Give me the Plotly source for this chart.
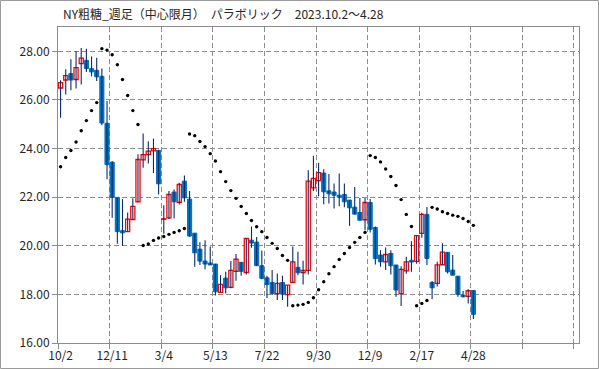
import plotly.graph_objects as go

# ---- data ----
opens = [26.49, 26.82, 27.08, 26.84, 27.49, 27.63, 27.29, 27.22, 26.97, 25.04,
         23.44, 21.99, 20.62, 20.58, 21.08, 21.81, 23.53, 23.75, 23.90, 23.92,
         21.09, 21.15, 22.21, 21.79, 22.66, 21.92, 20.52, 19.86, 19.37, 19.29,
         19.25, 18.08, 18.67, 18.29, 18.95, 19.32, 18.90, 20.23, 20.15, 19.18,
         18.68, 18.49, 18.03, 18.49, 17.99, 18.49, 19.11, 18.90, 18.99, 22.38,
         22.68, 22.99, 22.26, 22.21, 22.08, 22.11, 21.88, 21.59, 21.37, 21.07,
         21.78, 20.75, 19.62, 19.34, 19.68, 19.21, 18.03, 18.97, 19.40, 19.36,
         20.51, 21.29, 18.49, 18.45, 19.22, 19.73, 19.00, 18.75, 17.97, 17.92,
         18.16]
closes = [26.71, 27.00, 26.82, 27.33, 27.72, 27.29, 27.15, 26.95, 25.05, 23.34,
          21.99, 20.58, 20.53, 21.10, 21.62, 23.55, 23.75, 23.89, 24.00, 22.55,
          21.11, 22.11, 21.81, 22.52, 21.97, 20.40, 19.71, 19.37, 19.25, 19.21,
          18.11, 18.41, 18.27, 18.99, 19.45, 18.95, 20.30, 20.11, 19.18, 18.66,
          18.41, 18.03, 18.45, 18.01, 18.38, 19.34, 18.89, 18.99, 22.66, 22.77,
          23.01, 22.22, 22.14, 22.08, 22.00, 21.81, 21.56, 21.30, 21.05, 21.78,
          20.68, 19.47, 19.34, 19.64, 19.18, 18.18, 19.03, 19.34, 19.33, 20.42,
          21.29, 19.48, 18.27, 19.21, 19.74, 18.93, 18.79, 18.00, 17.90, 18.15,
          17.18]
highs = [26.81, 27.26, 27.67, 28.00, 28.14, 28.11, 27.79, 27.74, 27.29, 25.96,
         23.48, 21.99, 21.92, 21.37, 21.95, 23.77, 24.62, 24.30, 24.41, 23.95,
         21.67, 22.25, 22.32, 22.59, 22.89, 22.25, 20.52, 20.14, 20.23, 19.97,
         19.25, 18.79, 18.93, 19.37, 19.66, 19.32, 20.30, 20.79, 20.36, 19.81,
         18.77, 19.00, 18.86, 18.77, 18.38, 19.97, 19.75, 19.38, 23.11, 23.70,
         23.42, 23.15, 22.95, 22.56, 22.97, 22.56, 21.88, 22.42, 21.97, 21.97,
         21.92, 20.79, 19.82, 19.93, 19.82, 19.21, 19.16, 19.55, 20.19, 20.42,
         21.36, 21.60, 18.55, 19.34, 20.10, 19.73, 19.62, 18.75, 18.14, 18.21,
         18.16]
lows = [25.27, 26.22, 26.40, 26.47, 26.63, 27.15, 26.97, 26.78, 24.96, 22.74,
        21.15, 20.08, 19.99, 20.58, 21.08, 21.81, 23.21, 23.38, 22.99, 22.11,
        20.49, 21.10, 21.12, 21.70, 21.81, 20.37, 19.14, 19.21, 19.03, 19.21,
        17.95, 18.08, 18.04, 18.25, 18.56, 18.77, 18.82, 19.92, 19.18, 18.62,
        17.85, 17.97, 17.77, 17.77, 17.49, 18.49, 18.79, 18.41, 18.82, 22.25,
        22.04, 21.71, 21.74, 21.53, 21.63, 21.58, 20.82, 21.30, 21.05, 20.64,
        20.55, 19.23, 19.14, 19.00, 18.82, 17.90, 17.52, 18.85, 18.93, 19.26,
        20.33, 19.21, 17.81, 18.32, 19.22, 18.86, 18.79, 17.90, 17.88, 17.63,
        16.99]
sar = [23.25, 23.63, 23.92, 24.27, 24.73, 25.15, 25.56, 25.89, 28.11, 28.05,
       27.86, 27.45, 26.84, 26.18, 25.56, 24.99, 20.01, 20.07, 20.22, 20.32,
       20.38, 20.47, 20.55, 20.62, 20.71, 24.60, 24.53, 24.29, 24.08, 23.79,
       23.49, 23.05, 22.64, 22.27, 21.95, 21.62, 21.33, 21.04, 20.78, 20.58,
       20.34, 20.10, 19.89, 19.60, 19.40, 17.53, 17.56, 17.59, 17.67, 17.86,
       18.19, 18.52, 18.85, 19.14, 19.44, 19.68, 19.93, 20.14, 20.34, 20.55,
       23.71, 23.63, 23.45, 23.16, 22.85, 22.48, 21.90, 21.29, 20.79, 17.53,
       17.63, 17.75, 21.58, 21.51, 21.40, 21.33, 21.26, 21.21, 21.12, 21.00,
       20.84]
tick_labels = ["10/2", "12/11", "3/4", "5/13", "7/22", "9/30", "12/9", "2/17", "4/28"]
tick_step = 10
n_slots = 101
title_text = "NY粗糖_週足（中心限月）　パラボリック　2023.10.2～4.28"

# ---- derived ----
idx = list(range(len(opens)))
up = [i for i in idx if closes[i] >= opens[i]]
dn = [i for i in idx if closes[i] < opens[i]]

wx, wy = [], []
for i in idx:
    wx += [i, i, None]
    wy += [lows[i], highs[i], None]

FONT = "Noto Sans CJK JP"
RED = "#FF0000"
BLUE = "#0070C0"
NAVY = "#0B2A66"
GRID = "#8C8C8C"
TXT = "#262626"

fig = go.Figure()
fig.add_trace(go.Scatter(x=wx, y=wy, mode="lines", line=dict(color=NAVY, width=1.1),
                         hoverinfo="skip", showlegend=False))
fig.add_trace(go.Bar(x=up, y=[closes[i] - opens[i] for i in up], base=[opens[i] for i in up],
                     width=0.8, marker=dict(color="white", line=dict(color=RED, width=1.3)),
                     showlegend=False))
fig.add_trace(go.Bar(x=dn, y=[opens[i] - closes[i] for i in dn], base=[closes[i] for i in dn],
                     width=0.8, marker=dict(color=BLUE, line=dict(color=BLUE, width=1)),
                     showlegend=False))
fig.add_trace(go.Scatter(x=idx, y=sar, mode="markers",
                         marker=dict(color="black", size=3.4, symbol="circle", line=dict(width=0)),
                         showlegend=False))

W, H = 599, 369
ml, mr, mt, mb = 58, 20, 27, 26
pw, ph = W - ml - mr, H - mt - mb

fig.update_layout(
    width=W, height=H,
    margin=dict(l=ml, r=mr, t=mt, b=mb, pad=0, autoexpand=False),
    paper_bgcolor="white", plot_bgcolor="white",
    barmode="overlay", bargap=0,
    hovermode=False,
    font=dict(family=FONT, size=12, color=TXT),
    title=dict(text=title_text, x=63 / W, xanchor="left", y=1 - 15 / H, yanchor="middle",
               font=dict(family=FONT, size=12, color=TXT)),
    xaxis=dict(
        automargin=False,
        range=[-0.5, n_slots - 0.53],
        tickmode="array",
        tickvals=[k * tick_step for k in range(len(tick_labels))],
        ticktext=tick_labels,
        ticks="outside", ticklen=2, tickcolor="rgba(0,0,0,0)",
        showgrid=False, zeroline=False,
        showline=True, linecolor=GRID, linewidth=1, mirror=True,
        tickfont=dict(size=12, color=TXT),
        minor=dict(tickmode="array",
                   tickvals=[k * tick_step - 0.5 for k in range(n_slots // tick_step + 1)],
                   ticks="outside", ticklen=5, tickcolor=GRID, tickwidth=1,
                   showgrid=True, gridcolor=GRID, gridwidth=1, griddash="5px,3px"),
    ),
    yaxis=dict(
        automargin=False,
        range=[16, 29],
        tickmode="array", tickvals=[16, 18, 20, 22, 24, 26, 28],
        tickformat=".2f",
        ticks="outside", ticklen=5, tickcolor=GRID,
        showgrid=True, gridcolor=GRID, gridwidth=1, griddash="5px,3px",
        zeroline=False,
        showline=True, linecolor=GRID, linewidth=1, mirror=True,
        tickfont=dict(size=12, color=TXT),
    ),
    shapes=[dict(type="rect", xref="paper", yref="paper",
                 x0=-(ml - 0.5) / pw, x1=1 + (mr - 0.5) / pw,
                 y0=-(mb - 0.5) / ph, y1=1 + (mt - 0.5) / ph,
                 line=dict(color="#9A9A9A", width=1), fillcolor="rgba(0,0,0,0)", layer="below")],
)

fig.write_html("out.html", config={"displayModeBar": False, "staticPlot": True},
               post_script="document.body.style.margin='0';document.body.style.overflow='hidden';")
